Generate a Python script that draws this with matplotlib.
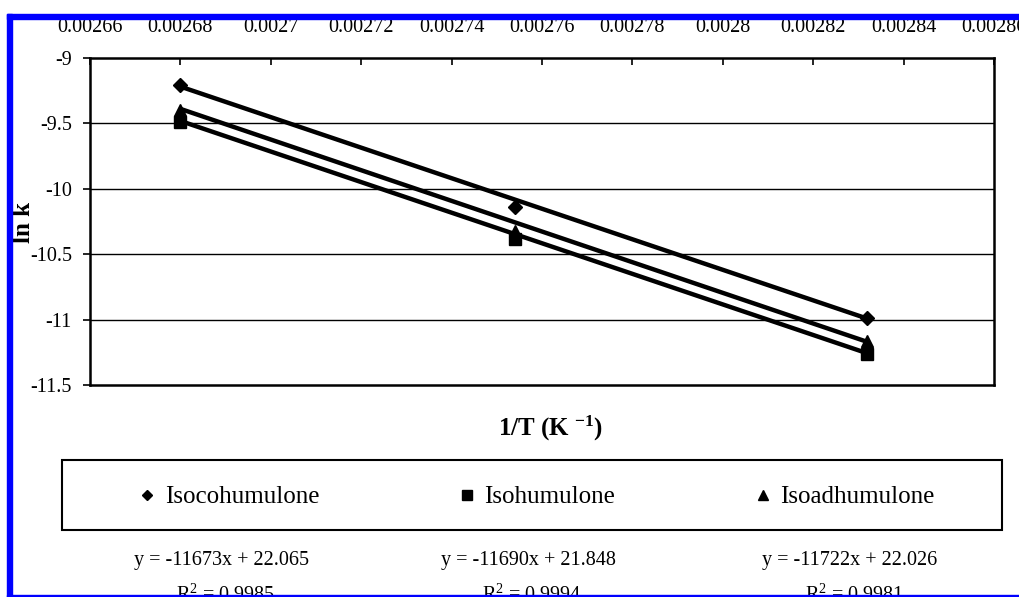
import matplotlib
matplotlib.use("Agg")
import matplotlib.pyplot as plt
from matplotlib.patches import Rectangle
import numpy as np

plt.rcParams["font.family"] = ["Liberation Serif", "DejaVu Serif"]
plt.rcParams["mathtext.fontset"] = "custom"
plt.rcParams["mathtext.rm"] = "Liberation Serif"
plt.rcParams["mathtext.it"] = "Liberation Serif:italic"
plt.rcParams["mathtext.bf"] = "Liberation Serif:bold"

# Data (1/T in K^-1, ln k)
inv_t = [0.002680, 0.002754, 0.002832]
names = ["Isocohumulone", "Isohumulone", "Isoadhumulone"]
markers = ["D", "s", "^"]
ln_k = {
    "Isocohumulone": [-9.21, -10.14, -10.99],
    "Isohumulone": [-9.49, -10.38, -11.26],
    "Isoadhumulone": [-9.40, -10.32, -11.16],
}
slopes = [-11673, -11690, -11722]
intercepts = [22.065, 21.848, 22.026]
r2 = ["0.9985", "0.9994", "0.9981"]

x_ticks = [0.00266, 0.00268, 0.0027, 0.00272, 0.00274, 0.00276,
           0.00278, 0.0028, 0.00282, 0.00284, 0.00286]
y_ticks = [-9, -9.5, -10, -10.5, -11, -11.5]

W, H = 1019, 597
fig = plt.figure(figsize=(W / 100, H / 100), dpi=100)
ax = fig.add_axes([90 / W, 1 - 385 / H, 904 / W, 327 / H])

# trendlines + points
xs = np.array([inv_t[0], inv_t[-1]])
for name, m, b in zip(names, slopes, intercepts):
    ax.plot(xs, m * xs + b, color="black", lw=3.2, solid_capstyle="butt", zorder=3)
sizes = {"D": 7, "s": 9, "^": 9}
handles = []
for name, mk in zip(names, markers):
    h, = ax.plot(inv_t, ln_k[name], linestyle="none", marker=mk,
                 markersize=sizes[mk], color="black", label=name, zorder=4)
    handles.append(h)

ax.set_xlim(0.00266, 0.00286)
ax.set_ylim(-11.5, -9)
ax.set_xticks(x_ticks)
ax.set_xticklabels([f"{v:g}" for v in x_ticks])
ax.set_yticks(y_ticks)
ax.set_yticklabels([f"{v:g}" for v in y_ticks])
ax.xaxis.tick_top()
ax.tick_params(axis="x", direction="in", length=5, width=1.2, pad=15, labelsize=14.5)
ax.tick_params(axis="y", direction="out", length=5, width=1.2, pad=8, labelsize=14.5)
for s in ax.spines.values():
    s.set_linewidth(1.8)
for yv in y_ticks[1:-1]:
    ax.axhline(yv, color="black", lw=1.0, zorder=1)

fig.text(23 / W, 1 - 222 / H, "ln k", rotation=90, ha="center", va="center",
         fontsize=18, fontweight="bold")
fig.text(551 / W, 1 - 428 / H, r"1/T (K $^{\mathbf{-1}}$)", ha="center", va="center",
         fontsize=18, fontweight="bold")

# legend box
fig.add_artist(Rectangle((62 / W, 1 - 530 / H), 940 / W, 70 / H, transform=fig.transFigure,
                         fill=False, edgecolor="black", lw=1.5))
fig.legend(handles=handles, loc="center", bbox_to_anchor=(537 / W, 1 - 497 / H),
           ncol=3, frameon=False, fontsize=18, handlelength=0.6, handletextpad=0.4,
           columnspacing=5.6, markerscale=0.8)

eq_x = [222, 528, 850]
for cx, m, b, r in zip(eq_x, slopes, intercepts, r2):
    fig.text(cx / W, 1 - 561 / H, f"y = {m}x + {b:.3f}", ha="center", va="center", fontsize=14.5)
    fig.text((cx + 4) / W, 1 - 601 / H, "R$^2$ = " + r, ha="center", va="baseline", fontsize=14.5)

# blue frame
blue = "#0000ff"
fig.add_artist(Rectangle((7 / W, 0), 5 / W, 1 - 14 / H, transform=fig.transFigure,
                         color=blue, zorder=10))
fig.add_artist(Rectangle((7 / W, 1 - 19 / H), 1 - 7 / W, 5 / H, transform=fig.transFigure,
                         color=blue, zorder=10))
fig.add_artist(Rectangle((7 / W, 0), 1 - 7 / W, 2 / H, transform=fig.transFigure,
                         color=blue, zorder=10))

fig.savefig("out.png", dpi=100)
